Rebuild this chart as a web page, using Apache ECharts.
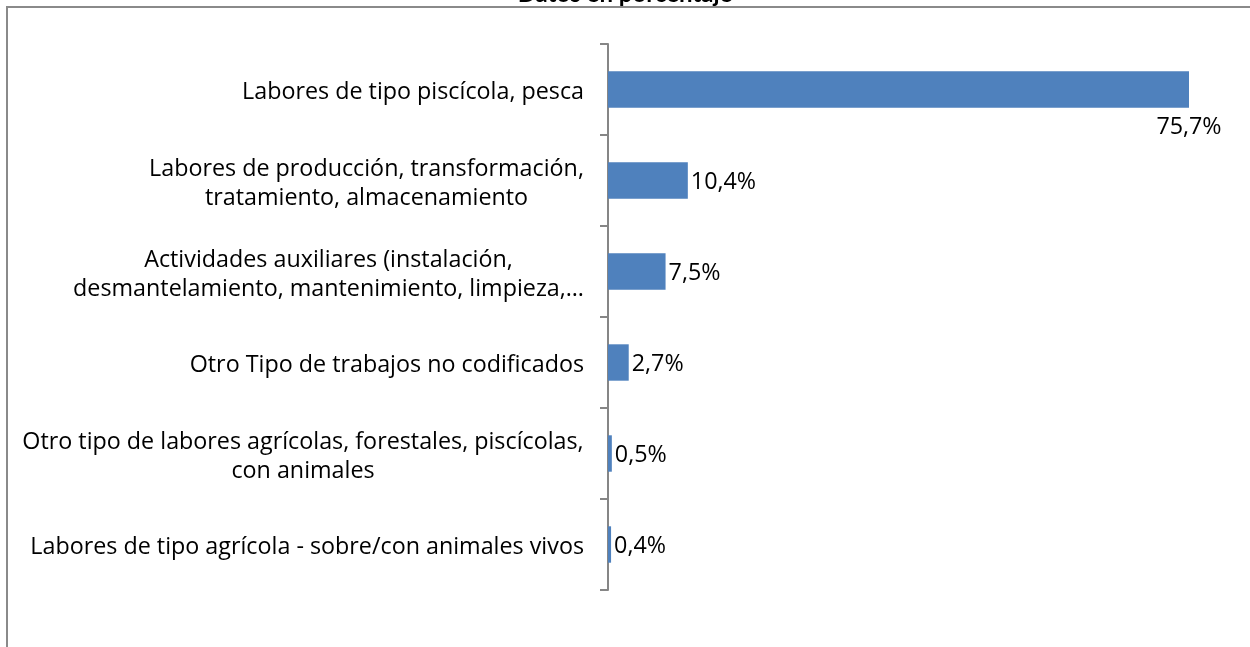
<!DOCTYPE html>
<html>
<head>
<meta charset="utf-8">
<script src="https://cdn.jsdelivr.net/npm/echarts@6/dist/echarts.min.js"></script>
<style>
html, body { margin: 0; padding: 0; background: #fff; }
#container { width: 1250px; height: 647px; }
</style>
</head>
<body>
<div id="container"></div>
<script>
let titleText = 'Datos en porcentaje';
let categories = [
    'Labores de tipo piscícola, pesca',
    'Labores de producción, transformación,\ntratamiento, almacenamiento',
    'Actividades auxiliares (instalación,\ndesmantelamiento, mantenimiento, limpieza,…',
    'Otro Tipo de trabajos no codificados',
    'Otro tipo de labores agrícolas, forestales, piscícolas,\ncon animales',
    'Labores de tipo agrícola - sobre/con animales vivos'
];
let values = [75.7, 10.4, 7.5, 2.7, 0.5, 0.4];

let font = 'Open Sans';
let fontSize = 23.3;

// multi-line labels: center the lines inside the block, block stays right aligned
let ctx = document.createElement('canvas').getContext('2d');
ctx.font = fontSize + 'px ' + font;
let rich = {};
let labelMap = {};
categories.forEach((c, i) => {
    let lines = c.split('\n');
    if (lines.length < 2) {
        labelMap[c] = c;
        return;
    }
    let w = Math.max(...lines.map(l => ctx.measureText(l).width));
    rich['c' + i] = {
        width: Math.ceil(w),
        align: 'center',
        fontFamily: font,
        fontSize: fontSize,
        lineHeight: 29,
        color: '#000'
    };
    labelMap[c] = lines.map(l => '{c' + i + '|' + l + '}').join('\n');
});

function pct(v) {
    return v.toFixed(1).replace('.', ',') + '%';
}

let seriesData = values.map((v, i) => {
    let item = {value: v};
    if (i === 0) {
        item.label = {
            position: ['100%', '100%'],
            align: 'center',
            verticalAlign: 'top',
            offset: [0, 8]
        };
    }
    return item;
});

let chart = echarts.init(document.getElementById('container'));
chart.setOption({
    animation: false,
    title: {
        text: titleText,
        left: 'center',
        top: -23,
        textStyle: {
            fontFamily: 'Lato',
            fontSize: 24,
            fontWeight: 'bold',
            color: '#000'
        }
    },
    graphic: [{
        type: 'rect',
        shape: {x: 7, y: 7, width: 1300, height: 700},
        style: {fill: 'none', stroke: '#8a8a8a', lineWidth: 2}
    }],
    grid: {
        left: 608,
        right: 61,
        top: 44,
        bottom: 57
    },
    xAxis: {
        type: 'value',
        min: 0,
        max: 75.7,
        show: false
    },
    yAxis: {
        type: 'category',
        inverse: true,
        data: categories,
        axisLine: {show: true, lineStyle: {color: '#868686', width: 2}},
        axisTick: {show: true, length: 8, lineStyle: {color: '#868686', width: 2}},
        axisLabel: {
            margin: 24,
            padding: [6, 0, 0, 0],
            fontFamily: font,
            fontSize: fontSize,
            lineHeight: 29,
            color: '#000',
            formatter: (v) => labelMap[v],
            rich: rich
        }
    },
    series: [{
        type: 'bar',
        data: seriesData,
        barWidth: '40%',
        itemStyle: {color: '#4f81bd'},
        label: {
            show: true,
            position: 'right',
            distance: 3,
            offset: [0, 2],
            fontFamily: font,
            fontSize: fontSize,
            color: '#000',
            formatter: (p) => pct(p.value)
        }
    }]
});
</script>
</body>
</html>
